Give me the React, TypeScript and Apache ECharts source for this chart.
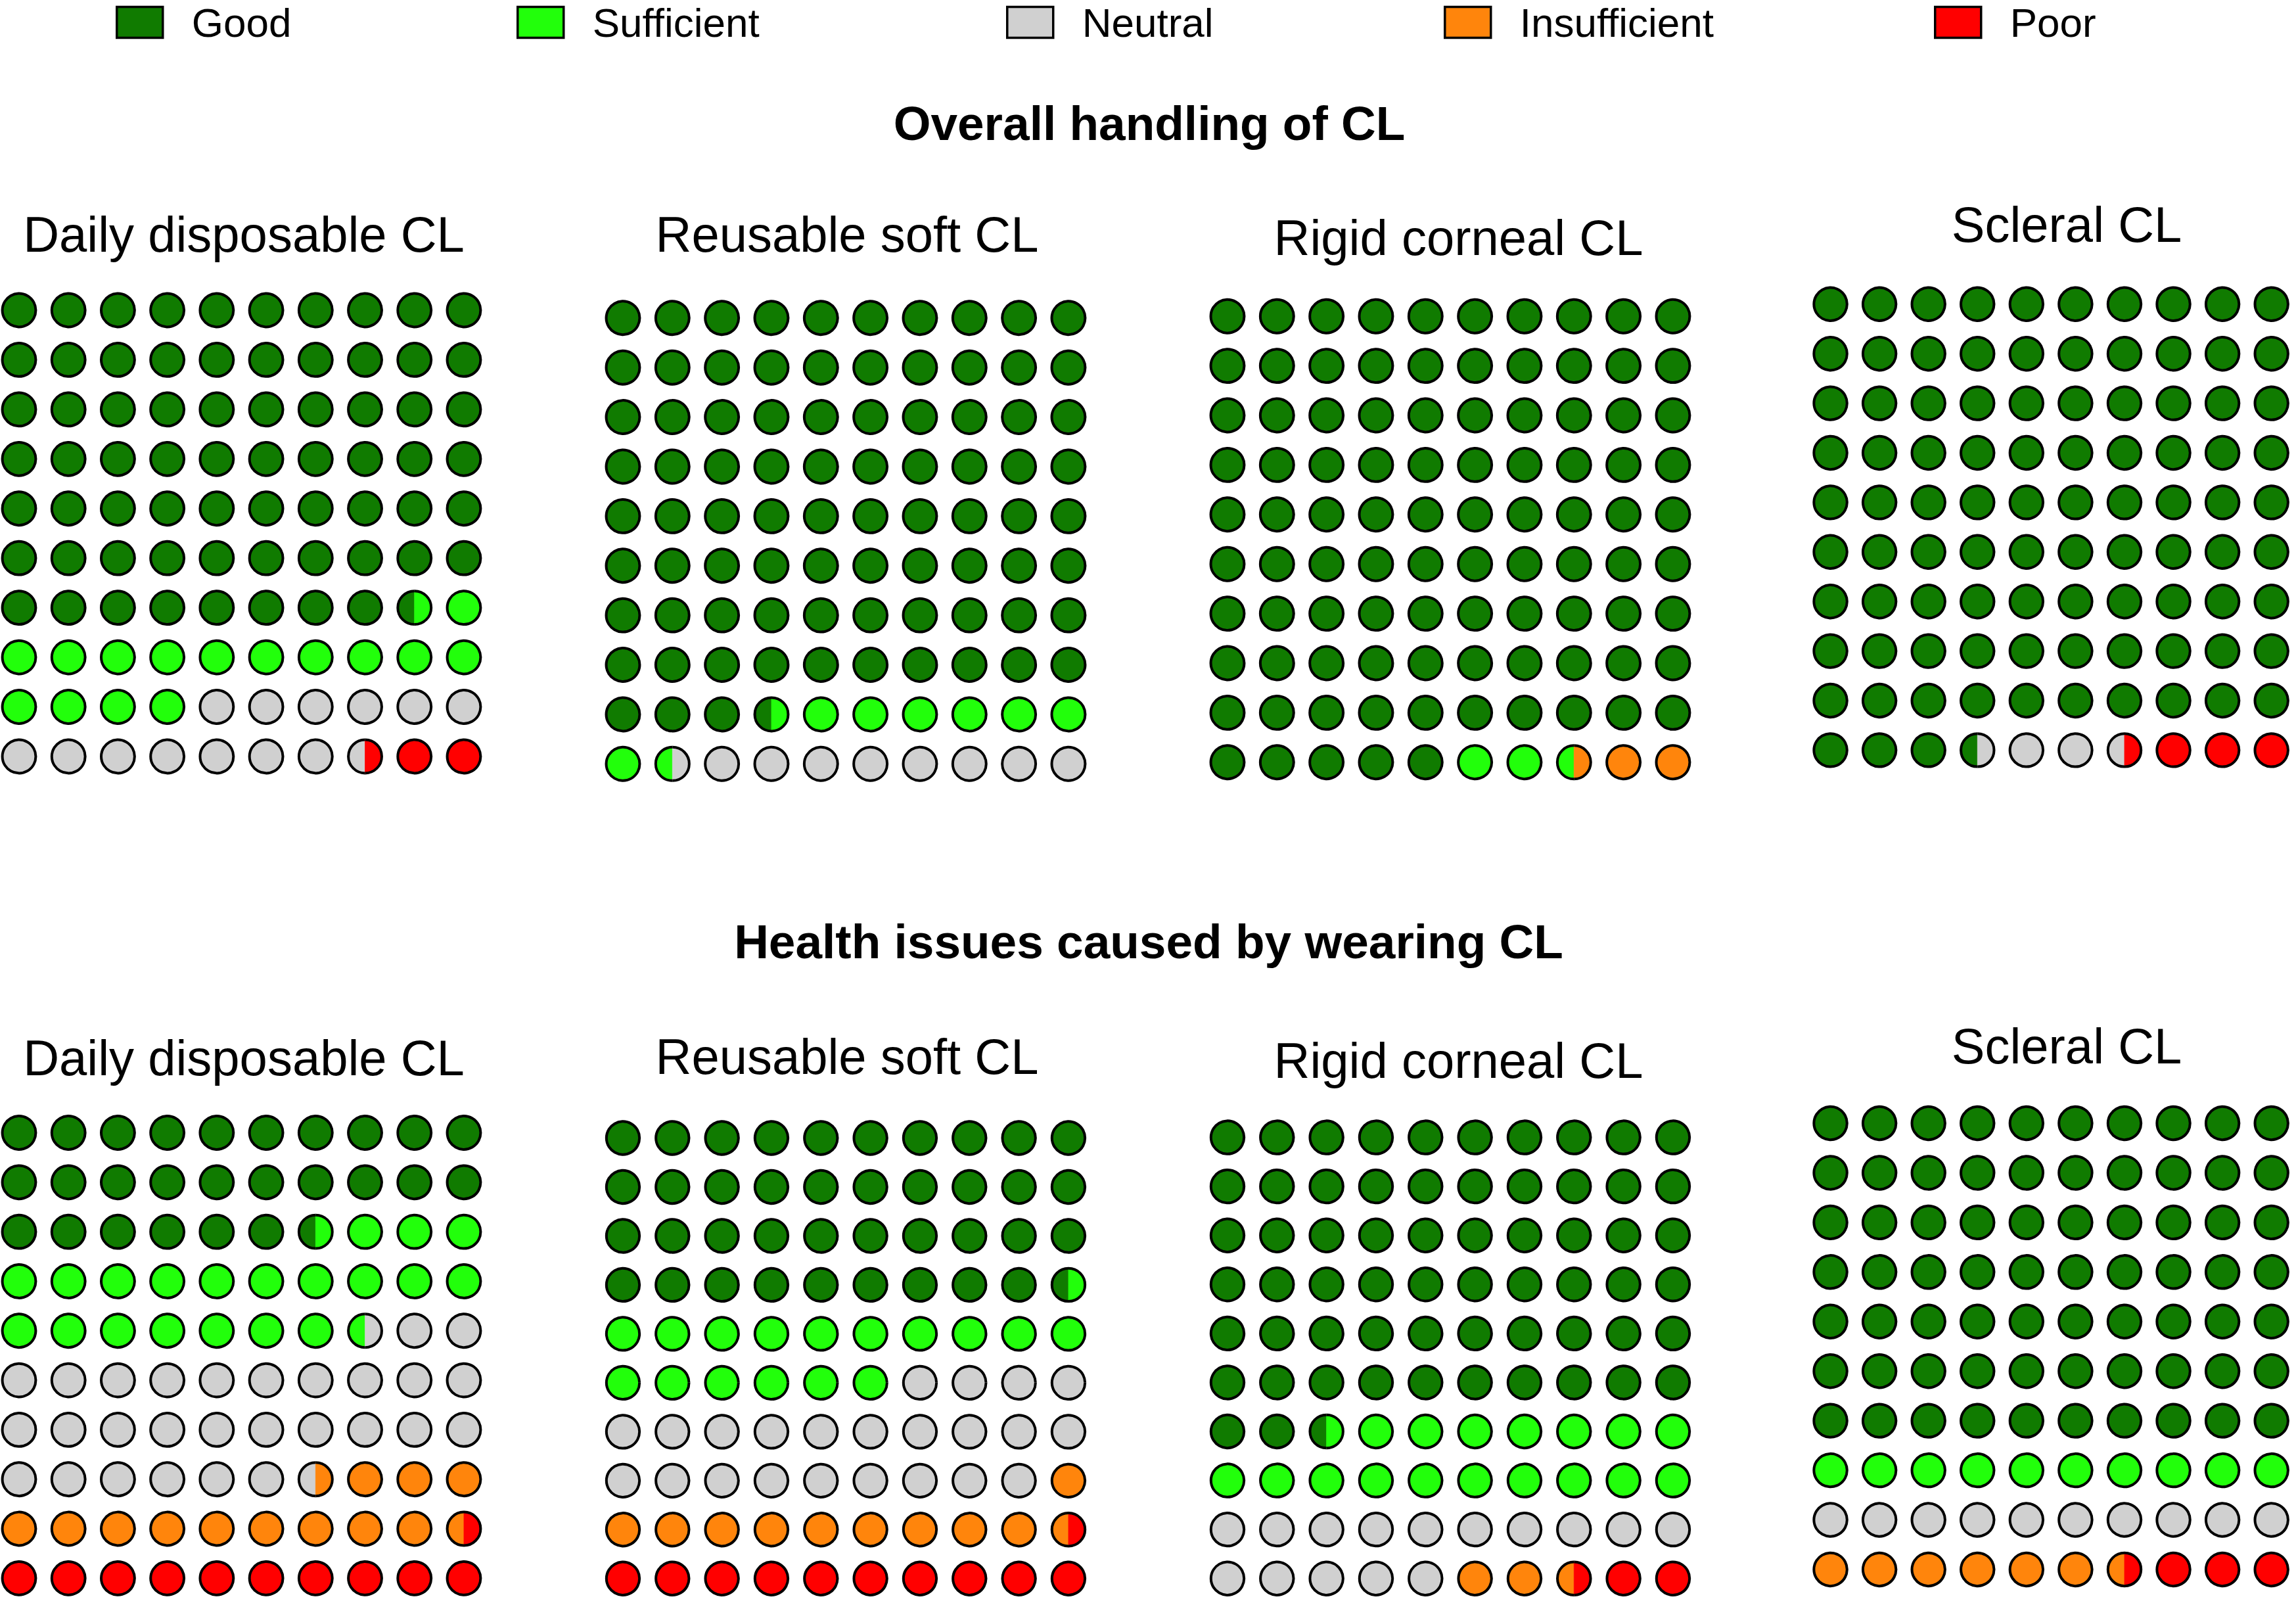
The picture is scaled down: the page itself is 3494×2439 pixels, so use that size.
import React, { useEffect, useRef } from 'react';
import * as echarts from 'echarts';

// ---- Data ----
const categories = ['Good', 'Sufficient', 'Neutral', 'Insufficient', 'Poor'];
const categoryColors = ['#107B00', '#22FF0B', '#D0D0D0', '#FF850C', '#FF0000'];
const sectionTitles = ['Overall handling of CL', 'Health issues caused by wearing CL'];
const lensTypes = ['Daily disposable CL', 'Reusable soft CL', 'Rigid corneal CL', 'Scleral CL'];

// percentages per category: [Good, Sufficient, Neutral, Insufficient, Poor]
const overallDaily = [68.5, 15.5, 13.5, 0, 2.5];
const overallReusable = [83.5, 8, 8.5, 0, 0];
const overallRigid = [95, 2.5, 0, 2.5, 0];
const overallScleral = [93.5, 0, 3, 0, 3.5];
const healthDaily = [26.5, 21, 29, 13, 10.5];
const healthReusable = [39.5, 16.5, 23, 10.5, 10.5];
const healthRigid = [62.5, 17.5, 15, 2.5, 2.5];
const healthScleral = [70, 10, 10, 6.5, 3.5];

const panelValues = [
  overallDaily, overallReusable, overallRigid, overallScleral,
  healthDaily, healthReusable, healthRigid, healthScleral,
];

// ---- Layout (positions only) ----
// first circle centre (x, y) and spacing for each panel
const panelOrigin = [
  [29, 472, 75.22, 75.44],
  [948, 483.8, 75.33, 75.39],
  [1868, 481.2, 75.33, 75.4],
  [2786, 462.8, 75.4, 75.4],
  [29, 1723.6, 75.22, 75.46],
  [948, 1732, 75.33, 75.44],
  [1868, 1731, 75.33, 75.44],
  [2786, 1709, 75.4, 75.44],
];
const panelTitleX = [371, 1289, 2219.5, 3145];
const panelTitleY = [[356.5, 356.5, 361, 341], [1609, 1607, 1613, 1591]];
const sectionTitlePos = [[1749, 187], [1748, 1432]];
const legendLeft = [176, 786, 1531, 2197, 2943];

const FONT = '"Liberation Sans", Arial, Helvetica, sans-serif';

// Split a panel's percentages into 100 cells (half-cell resolution)
function buildCells(values: number[]) {
  const out: number[][][] = categories.map(() => []);
  let slot = 0;
  values.forEach((v, ci) => {
    const end = slot + Math.round(v * 2);
    let s = slot;
    while (s < end) {
      const cell = Math.floor(s / 2);
      const col = cell % 10;
      const row = Math.floor(cell / 10);
      if (s % 2 === 0 && s + 1 < end) {
        out[ci].push([col, row, 0]);
        s += 2;
      } else if (s % 2 === 0) {
        out[ci].push([col, row, 1]);
        s += 1;
      } else {
        out[ci].push([col, row, 2]);
        s += 1;
      }
    }
    slot = end;
  });
  return out;
}

const LW = 4;

const renderItem = (params: any, api: any) => {
  const c = api.coord([api.value(0), api.value(1)]);
  const sz = api.size([1, 1]);
  const r = 0.338 * Math.min(sz[0], sz[1]);
  const part = api.value(2);
  const color = api.visual('color');
  if (part === 0) {
    return {
      type: 'circle',
      shape: { cx: c[0], cy: c[1], r },
      style: { fill: color, stroke: '#000', lineWidth: LW },
    };
  }
  const start = part === 1 ? Math.PI / 2 : -Math.PI / 2;
  const end = part === 1 ? Math.PI * 1.5 : Math.PI / 2;
  return {
    type: 'group',
    children: [
      {
        type: 'sector',
        z2: 0,
        shape: { cx: c[0], cy: c[1], r0: 0, r, startAngle: start, endAngle: end, clockwise: true },
        style: { fill: color, stroke: color, lineWidth: 0.8 },
      },
      {
        type: 'arc',
        z2: 5,
        shape: { cx: c[0], cy: c[1], r, startAngle: start, endAngle: end, clockwise: true },
        style: { fill: 'none', stroke: '#000', lineWidth: LW },
      },
    ],
  };
};

export default function App() {
  const ref = useRef<HTMLDivElement>(null);

  useEffect(() => {
    if (!ref.current) return;
    const chart = echarts.init(ref.current, undefined, { renderer: 'svg' });

    // grid boxes start at >= 0; axis ranges extend so that cell pitch matches
    const layout = panelOrigin.map(([x0, y0, sx, sy]) => {
      const gl = Math.max(0, x0 - sx / 2);
      const gt = y0 - sy / 2;
      const xmin = -(x0 - gl) / sx;
      return { gl, gt, xmin, sx, sy, w: (9.5 - xmin) * sx, h: 10 * sy };
    });

    const grids = layout.map((g) => ({
      left: g.gl, top: g.gt, width: g.w, height: g.h, containLabel: false,
    }));
    const xAxes = layout.map((g, i) => ({
      type: 'value', gridIndex: i, min: g.xmin, max: 9.5, show: false,
    }));
    const yAxes = layout.map((_, i) => ({
      type: 'value', gridIndex: i, min: -0.5, max: 9.5, inverse: true, show: false,
    }));

    const series: any[] = [];
    panelValues.forEach((vals, p) => {
      const cells = buildCells(vals);
      categories.forEach((name, ci) => {
        series.push({
          type: 'custom',
          name,
          coordinateSystem: 'cartesian2d',
          xAxisIndex: p,
          yAxisIndex: p,
          itemStyle: { color: categoryColors[ci] },
          encode: { x: 0, y: 1 },
          data: cells[ci],
          renderItem,
          silent: true,
        });
      });
    });

    const legends = categories.map((name, i) => ({
      data: [name],
      left: legendLeft[i],
      top: 3,
      padding: 0,
      icon: 'rect',
      itemWidth: 70,
      itemHeight: 47,
      selectedMode: false,
      itemStyle: { borderColor: '#000', borderWidth: 3.5 },
      textStyle: { fontSize: 62, fontFamily: FONT, color: '#000', padding: [0, 0, 0, 39] },
    }));

    const graphics: any[] = [];
    sectionTitles.forEach((t, s) => {
      graphics.push({
        type: 'text',
        x: sectionTitlePos[s][0],
        y: sectionTitlePos[s][1],
        style: {
          text: t,
          font: `bold 73px ${FONT}`,
          fill: '#000',
          textAlign: 'center',
          textVerticalAlign: 'middle',
          align: 'center',
          verticalAlign: 'middle',
        },
      });
      lensTypes.forEach((lt, j) => {
        graphics.push({
          type: 'text',
          x: panelTitleX[j],
          y: panelTitleY[s][j],
          style: {
            text: lt,
            font: `76px ${FONT}`,
            fill: '#000',
            textAlign: 'center',
            textVerticalAlign: 'middle',
            align: 'center',
            verticalAlign: 'middle',
          },
        });
      });
    });

    chart.setOption({
      animation: false,
      backgroundColor: '#fff',
      color: categoryColors,
      legend: legends,
      grid: grids,
      xAxis: xAxes,
      yAxis: yAxes,
      series,
      graphic: graphics,
    });

    return () => chart.dispose();
  }, []);

  return (
    <div
      ref={ref}
      style={{ position: 'absolute', left: 0, top: 0, width: 3494, height: 2439, background: '#fff' }}
    />
  );
}
